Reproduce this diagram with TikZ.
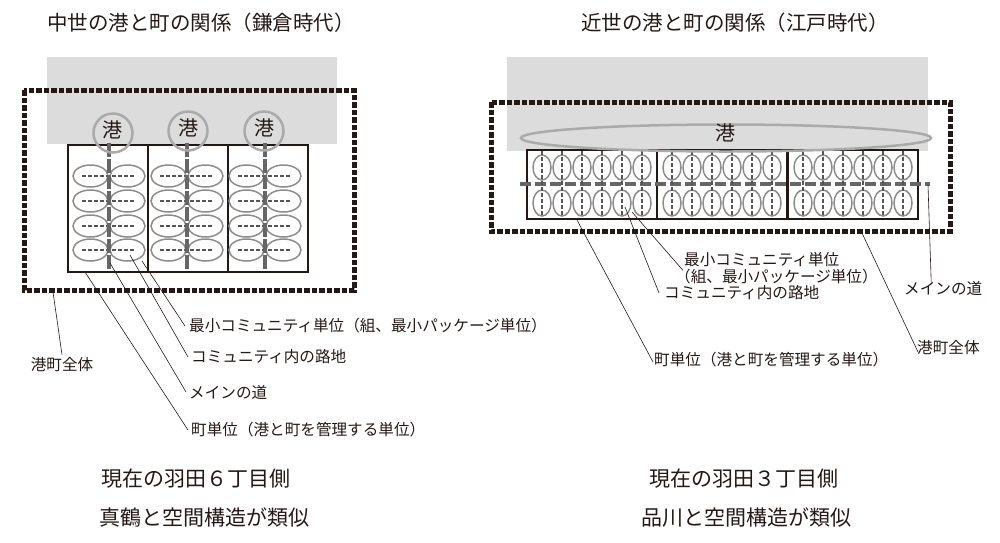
\documentclass[tikz,border=0pt]{standalone}
\usepackage{fontspec}
\setmainfont{Noto Sans CJK JP}
\definecolor{ink}{HTML}{231815}
\definecolor{sea}{HTML}{DCDCDC}
\definecolor{road}{HTML}{666666}
\definecolor{ring}{HTML}{AAAAAA}
\definecolor{cell}{HTML}{8C8C8C}
\definecolor{alley}{HTML}{555555}
\tikzset{
  seabox/.style={fill=sea, draw=none},
  border/.style={draw=ink, line width=5pt, dash pattern=on 5.5pt off 2pt},
  unitbox/.style={draw=ink, line width=1.5pt, fill=white},
  cellshape/.style={draw=cell, line width=1.5pt},
  alleyline/.style={draw=alley, line width=1.6pt, dash pattern=on 4pt off 2pt},
  mainroad/.style={draw=road, line width=4.5pt, dash pattern=on 14pt off 2pt},
  mainroadh/.style={draw=road, line width=4.5pt, dash pattern=on 11pt off 4pt},
  portring/.style={draw=ring, line width=2.5pt},
  porttext/.style={font=\fontsize{20}{22}\selectfont, text=ink, inner sep=0pt},
  lbl/.style={font=\fontsize{15.6}{17}\selectfont, text=ink, inner sep=0pt, anchor=west},
  leader/.style={draw=ink, line width=0.6pt},
  ttl/.style={font=\fontsize{20.5}{23}\selectfont, text=ink, inner sep=0pt, anchor=west},
  note/.style={font=\fontsize{21}{23}\selectfont, text=ink, inner sep=0pt, anchor=west},
}
\begin{document}
\begin{tikzpicture}[x=1pt,y=-1pt]
\useasboundingbox (0,0) rectangle (1000,542);
% ---------------- left diagram ----------------
\node[ttl] (titleL) at (47,23) {中世の港と町の関係（鎌倉時代）};
\fill[seabox] (47,57) rectangle (337,144);
\draw[border] (24,90) rectangle (354,290);
\foreach \ux/\rx/\cx/\cy in {68/109/113/133, 148/187/188/131, 228/265/264/131}{
  \draw[unitbox] (\ux,145) rectangle ++(80,127);
  \foreach \ry in {176,201,226,250}{
    \draw[cellshape] (\rx-18.5,\ry) ellipse [x radius=17.5pt, y radius=11pt];
    \draw[cellshape] (\rx+18.5,\ry) ellipse [x radius=17.5pt, y radius=11pt];
    \draw[alleyline] (\rx-27,\ry) -- (\rx+26,\ry);
  }
  \draw[mainroad] (\rx,143) -- (\rx,271);
  \draw[portring] (\cx,\cy) circle [radius=19.5pt];
}
\node[porttext] (portL1) at (112,130) {港};
\node[porttext] (portL2) at (188,128) {港};
\node[porttext] (portL3) at (264,128) {港};
\coordinate (cellEdgeL) at (142,261);
\coordinate (alleyPtL) at (130,255);
\coordinate (roadPtL) at (110,263);
\coordinate (unitPtL) at (85,272);
\coordinate (borderPtL) at (53,292);
\node[lbl] (lMin) at (189,326) {最小コミュニティ単位（組、最小パッケージ単位）};
\node[lbl] (lAlley) at (191,357) {コミュニティ内の路地};
\node[lbl] (lMain) at (189,392) {メインの道};
\node[lbl] (lUnit) at (191,430) {町単位（港と町を管理する単位）};
\node[lbl, anchor=center] (lAll) at (62,365) {港町全体};
\draw[leader] (cellEdgeL) -- ([xshift=-4pt]lMin.west);
\draw[leader] (alleyPtL) -- ([xshift=-3pt]lAlley.west);
\draw[leader] (roadPtL) -- ([xshift=-3pt]lMain.west);
\draw[leader] (unitPtL) -- ([xshift=-3pt]lUnit.west);
\draw[leader] (borderPtL) -- ([yshift=3pt]lAll.north);
\node[note] (noteL1) at (101,479) {現在の羽田６丁目側};
\node[note] (noteL2) at (99,518) {真鶴と空間構造が類似};
% ---------------- right diagram ----------------
\node[ttl] (titleR) at (581,23) {近世の港と町の関係（江戸時代）};
\fill[seabox] (507,57) rectangle (928,151);
\draw[border] (491,102) rectangle (950,231);
\foreach \ux in {527,657,788}{
  \draw[unitbox] (\ux,150) rectangle ++(130,69);
  \foreach \k in {0,...,5}{
    \draw[cellshape] (\ux+15+20*\k,167.5) ellipse [x radius=9pt, y radius=12.5pt];
    \draw[cellshape] (\ux+15+20*\k,203) ellipse [x radius=9pt, y radius=13pt];
  }
}
\draw[mainroadh] (520,184) -- (930,184);
\foreach \ux in {527,657,788}{
  \foreach \k in {0,...,5}{
    \draw[alleyline] (\ux+15+20*\k,151) -- (\ux+15+20*\k,216);
  }
}
\draw[portring] (726,138) ellipse [x radius=205pt, y radius=13.5pt];
\node[porttext] (portR) at (725,133) {港};
\coordinate (cellEdgeR) at (632,212);
\coordinate (alleyPtR) at (625,207);
\coordinate (unitPtR) at (577,220);
\coordinate (borderPtR) at (862,233);
\coordinate (roadEndR) at (928,185);
\node[lbl] (rMin1) at (684,260) {最小コミュニティ単位};
\node[lbl] (rMin2) at (675,277) {（組、最小パッケージ単位）};
\node[lbl] (rAlley) at (664,293) {コミュニティ内の路地};
\node[lbl] (rUnit) at (654,360) {町単位（港と町を管理する単位）};
\node[lbl] (rAll) at (917,348) {港町全体};
\node[lbl] (rMain) at (904,288) {メインの道};
\draw[leader] (cellEdgeR) -- ([xshift=8pt,yshift=-1pt]rMin2.north west);
\draw[leader] (alleyPtR) -- ([xshift=-5pt]rAlley.west);
\draw[leader] (unitPtR) -- ([xshift=-1pt,yshift=-2pt]rUnit.west);
\draw[leader] (borderPtR) -- ([xshift=1pt,yshift=-4pt]rAll.west);
\draw[leader] (roadEndR) -- ([xshift=-12pt,yshift=-1pt]rMain.north);
\node[note] (noteR1) at (649,479) {現在の羽田３丁目側};
\node[note] (noteR2) at (641,518) {品川と空間構造が類似};
\end{tikzpicture}
\end{document}
